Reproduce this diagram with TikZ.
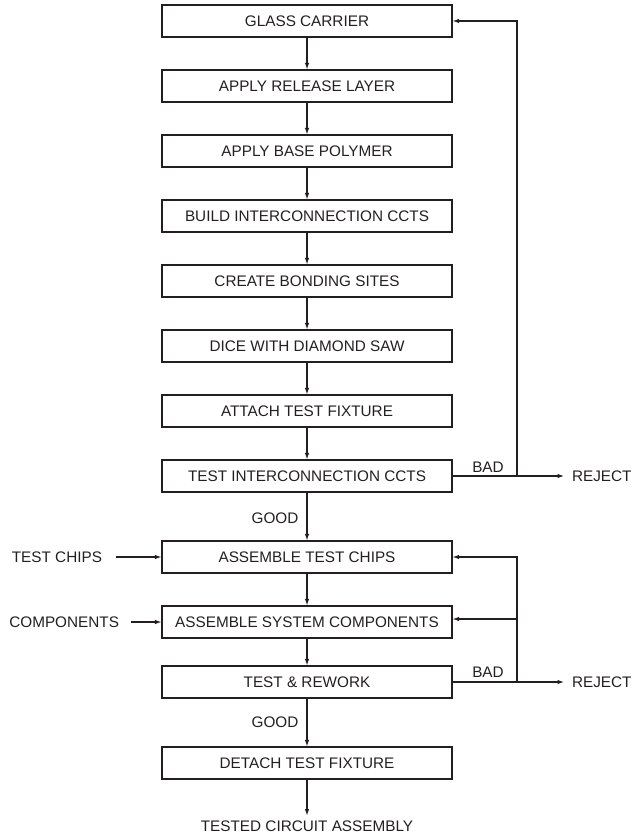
\documentclass[tikz,border=0pt]{standalone}
\usepackage{fontspec}
\setmainfont{Liberation Sans}
\usetikzlibrary{arrows.meta}

\definecolor{ink}{HTML}{231F20}

\tikzset{
  stepbox/.style={draw=ink, line width=1.1pt, minimum width=290pt, minimum height=32pt,
    inner sep=0pt, text=ink, font=\fontsize{15.3pt}{18pt}\selectfont},
  lbl/.style={inner sep=0pt, text=ink, font=\fontsize{15.3pt}{18pt}\selectfont},
  flow/.style={draw=ink, line width=1.1pt, -{Latex[length=6.5pt,width=4.5pt]}},
  wire/.style={draw=ink, line width=1.1pt}
}

\begin{document}
\begin{tikzpicture}[x=1pt, y=-1pt]
  \useasboundingbox (0,0) rectangle (631,834);

  % main process chain
  \node[stepbox] (b1)  at (307,21)  {GLASS CARRIER};
  \node[stepbox] (b2)  at (307,86)  {APPLY RELEASE LAYER};
  \node[stepbox] (b3)  at (307,151) {APPLY BASE POLYMER};
  \node[stepbox] (b4)  at (307,216) {BUILD INTERCONNECTION CCTS};
  \node[stepbox] (b5)  at (307,281) {CREATE BONDING SITES};
  \node[stepbox] (b6)  at (307,346) {DICE WITH DIAMOND SAW};
  \node[stepbox] (b7)  at (307,411) {ATTACH TEST FIXTURE};
  \node[stepbox] (b8)  at (307,476) {TEST INTERCONNECTION CCTS};
  \node[stepbox] (b9)  at (307,557) {ASSEMBLE TEST CHIPS};
  \node[stepbox] (b10) at (307,622) {ASSEMBLE SYSTEM COMPONENTS};
  \node[stepbox] (b11) at (307,682) {TEST \& REWORK};
  \node[stepbox] (b12) at (307,763) {DETACH TEST FIXTURE};

  % inputs, outputs and rejects
  \node[lbl, anchor=east, outer xsep=14pt] (chips) at (116,557) {TEST CHIPS};
  \node[lbl, anchor=east, outer xsep=12pt] (comp)  at (131,622) {COMPONENTS};
  \node[lbl, anchor=west, outer xsep=8pt]  (rej1)  at (564,476) {REJECT};
  \node[lbl, anchor=west, outer xsep=8pt]  (rej2)  at (564,682) {REJECT};
  \node[lbl, outer ysep=5pt] (out) at (307,826) {TESTED CIRCUIT ASSEMBLY};

  % branch labels
  \node[lbl] (good1) at (275,518) {GOOD};
  \node[lbl] (good2) at (275,722) {GOOD};
  \node[lbl] (bad1)  at (488,467) {BAD};
  \node[lbl] (bad2)  at (488,672) {BAD};

  % junctions on the return line
  \coordinate (j1) at (517,476);
  \coordinate (j2) at (517,682);
  \coordinate (k10) at (517,619);

  % flow down the chain
  \foreach \a/\b in {b1/b2,b2/b3,b3/b4,b4/b5,b5/b6,b6/b7,b7/b8,b8/b9,b9/b10,b10/b11,b11/b12}
    \draw[flow] (\a) -- (\b);
  \draw[flow] (b12) -- (out);

  % side inputs
  \draw[flow] (chips.east) -- (b9.west);
  \draw[flow] (comp.east) -- (b10.west);

  % first test: reject and return to the carrier
  \draw[flow] (b8.east) -- (rej1.west);
  \draw[flow] (j1) |- (b1.east);

  % second test: reject and rework loops
  \draw[flow] (b11.east) -- (rej2.west);
  \draw[flow] (j2) |- (b9.east);
  \draw[flow] (k10) -- (k10 -| b10.east);
\end{tikzpicture}
\end{document}
